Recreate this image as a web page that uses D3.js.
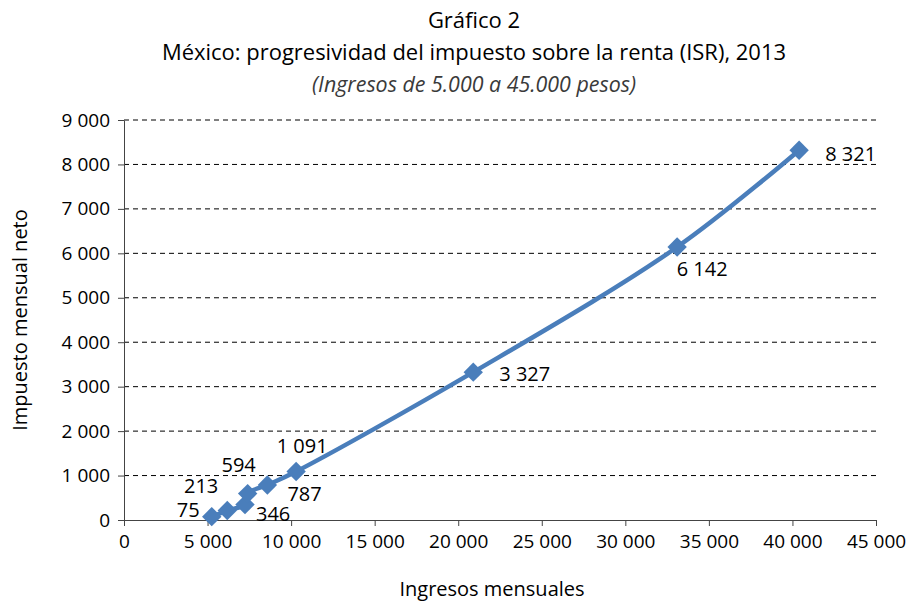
<!DOCTYPE html>
<html><head><meta charset="utf-8">
<script src="https://cdn.jsdelivr.net/npm/d3@7"></script>
<style>
body{margin:0;background:#fff;}
text{font-family:"Open Sans","Noto Sans",sans-serif;fill:#000;}
</style></head>
<body><svg id="c" width="919" height="602"></svg>
<script>
const incomes = [5250, 6180, 7240, 7400, 8580, 10300, 20900, 33100, 40400];
const taxes   = [75, 213, 346, 594, 787, 1091, 3327, 6142, 8321];
const taxLabels = ["75","213","346","594","787","1 091","3 327","6 142","8 321"];
// label offsets relative to point (dx, dy) and anchor
const labelPlace = [
  [-12,-5,"end"],[-9,-23,"end"],[11,11,"start"],[-9,-27,"middle"],[20,11,"start"],
  [6,-24,"middle"],[26,4,"start"],[25,24,"middle"],[26,5,"start"]
];
const xTicks = [0,5000,10000,15000,20000,25000,30000,35000,40000,45000];
const yTicks = [0,1000,2000,3000,4000,5000,6000,7000,8000,9000];
const fmt = v => d3.format(",")(v).replace(/,/g," ");

const svg = d3.select("#c");
const x = d3.scaleLinear().domain([0,45000]).range([124,876]);
const y = d3.scaleLinear().domain([0,9000]).range([520,120]);

// gridlines
svg.append("g").selectAll("line").data(yTicks.filter(d=>d>0)).join("line")
  .attr("x1",124).attr("x2",876).attr("y1",d=>y(d)).attr("y2",d=>y(d))
  .attr("stroke","#000").attr("stroke-width",1).attr("stroke-dasharray","5,4");

const gx = svg.append("g").attr("transform","translate(0,520)")
  .call(d3.axisBottom(x).tickValues(xTicks).tickFormat(fmt).tickSizeInner(6).tickSizeOuter(0).tickPadding(9));
gx.select(".domain").attr("stroke","#444");
gx.selectAll(".tick line").attr("stroke","#444");
gx.selectAll("text").attr("font-size",19).attr("fill","#000");

const gy = svg.append("g").attr("transform","translate(124,0)")
  .call(d3.axisLeft(y).tickValues(yTicks).tickFormat(fmt).tickSizeInner(6).tickSizeOuter(0).tickPadding(8));
gy.select(".domain").attr("stroke","#444");
gy.selectAll(".tick line").attr("stroke","#444");
gy.selectAll("text").attr("font-size",19).attr("fill","#000");

const pts = incomes.map((v,i)=>({x:v,y:taxes[i],label:taxLabels[i],p:labelPlace[i]}));
const line = d3.line().x(d=>x(d.x)).y(d=>y(d.y)).curve(d3.curveCatmullRom.alpha(0.5));
svg.append("path").datum(pts).attr("d",line).attr("fill","none")
  .attr("stroke","#4a7ebb").attr("stroke-width",4.5).attr("stroke-linejoin","round");

svg.append("g").selectAll("path").data(pts).join("path")
  .attr("transform",d=>`translate(${x(d.x)},${y(d.y)})`)
  .attr("d",d3.symbol().type(d3.symbolDiamond2).size(240))
  .attr("fill","#4a7ebb");

svg.append("g").selectAll("text").data(pts).join("text")
  .attr("x",d=>x(d.x)+d.p[0]).attr("y",d=>y(d.y)+d.p[1])
  .attr("text-anchor",d=>d.p[2]).attr("dominant-baseline","middle")
  .attr("font-size",20).text(d=>d.label);

// titles
svg.append("text").attr("x",474).attr("y",28).attr("text-anchor","middle").attr("font-size",22).text("Gráfico 2");
svg.append("text").attr("x",474).attr("y",60).attr("text-anchor","middle").attr("font-size",22).attr("textLength",624).attr("lengthAdjust","spacingAndGlyphs").text("México: progresividad del impuesto sobre la renta (ISR), 2013");
svg.append("text").attr("x",474).attr("y",92).attr("text-anchor","middle").attr("font-size",21).attr("font-style","italic").style("fill","#3a3a3a").attr("textLength",324).attr("lengthAdjust","spacingAndGlyphs").text("(Ingresos de 5.000 a 45.000 pesos)");
svg.append("text").attr("x",492).attr("y",596).attr("text-anchor","middle").attr("font-size",20).text("Ingresos mensuales");
svg.append("text").attr("transform","translate(27,320) rotate(-90)").attr("text-anchor","middle").attr("font-size",20).text("Impuesto mensual neto");
</script></body></html>
